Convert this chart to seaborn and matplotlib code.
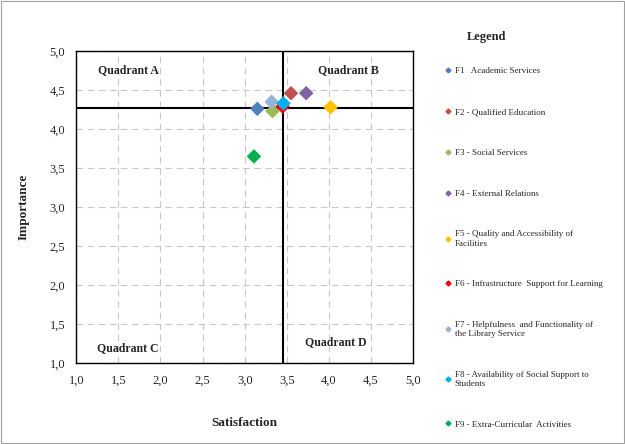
import seaborn as sns
import pandas as pd
import matplotlib.pyplot as plt
from matplotlib.lines import Line2D
from matplotlib.patches import Rectangle
from matplotlib.ticker import FuncFormatter

labels = ["F1   Academic Services",
          "F2 - Qualified Education",
          "F3 - Social Services",
          "F4 - External Relations",
          "F5 - Quality and Accessibility of\nFacilities",
          "F6 - Infrastructure  Support for Learning",
          "F7 - Helpfulness  and Functionality of\nthe Library Service",
          "F8 - Availability of Social Support to\nStudents",
          "F9 - Extra-Curricular  Activities"]
satisfaction = [3.15, 3.55, 3.33, 3.73, 4.02, 3.45, 3.32, 3.46, 3.11]
importance = [4.26, 4.46, 4.23, 4.46, 4.28, 4.29, 4.35, 4.33, 3.65]
colors = ["#4F81BD", "#C0504D", "#9BBB59", "#8064A2", "#FFC000",
          "#FF0000", "#95B3D7", "#00B0F0", "#00B050"]
mean_sat = 3.46
mean_imp = 4.27

sns.set_style("white")
plt.rcParams['font.family'] = ['Liberation Serif', 'DejaVu Serif']

df = pd.DataFrame({"Satisfaction": satisfaction, "Importance": importance, "Factor": labels})

fig = plt.figure(figsize=(6.25, 4.44), dpi=100)
ax = fig.add_axes([0.122, 0.182, 0.539, 0.703])

ax.grid(True, color="#c8c8c8", linestyle=(0, (6, 4)), linewidth=0.8)
ax.axvline(mean_sat, color="black", lw=1.5, zorder=2)
ax.axhline(mean_imp, color="black", lw=1.5, zorder=2)

sns.scatterplot(data=df, x="Satisfaction", y="Importance", hue="Factor",
                palette=colors, marker="D", s=55, edgecolor="none",
                legend=False, ax=ax, zorder=3)

ax.set_xlim(1, 5)
ax.set_ylim(1, 5)
ax.set_xticks([1 + 0.5 * i for i in range(9)])
ax.set_yticks([1 + 0.5 * i for i in range(9)])
fmt = FuncFormatter(lambda v, p: f"{v:.1f}".replace(".", ","))
ax.xaxis.set_major_formatter(fmt)
ax.yaxis.set_major_formatter(fmt)
ax.tick_params(length=0, labelsize=9, pad=8)
for s in ax.spines.values():
    s.set_color("black")
    s.set_linewidth(1)

ax.set_xlabel("Satisfaction", fontsize=9.5, fontweight="bold", labelpad=22)
ax.set_ylabel("Importance", fontsize=9.5, fontweight="bold", labelpad=14)

qkw = dict(fontsize=8.5, fontweight="bold", ha="center", va="center")
ax.text(1.62, 4.75, "Quadrant A", **qkw)
ax.text(4.23, 4.75, "Quadrant B", **qkw)
ax.text(1.61, 1.19, "Quadrant C", **qkw)
ax.text(4.08, 1.27, "Quadrant D", **qkw)

# legend, Excel style: title separate, wide spacing
fig.text(0.779, 0.917, "Legend", fontsize=9, fontweight="bold", ha="center", va="center")
handles = [Line2D([], [], marker="D", color=c, linestyle="none", markersize=2.5)
           for c in colors]
leg = fig.legend(handles, labels, loc="upper left", bbox_to_anchor=(0.713, 0.849),
                 frameon=False, fontsize=6.5, labelspacing=3.6,
                 handlelength=0.6, handletextpad=0.4, borderaxespad=0, borderpad=0)

fig.patches.append(Rectangle((0.002, 0.002), 0.996, 0.996, transform=fig.transFigure,
                             fill=False, edgecolor="#a0a0a0", lw=0.8))

fig.savefig("out.png", dpi=100)
